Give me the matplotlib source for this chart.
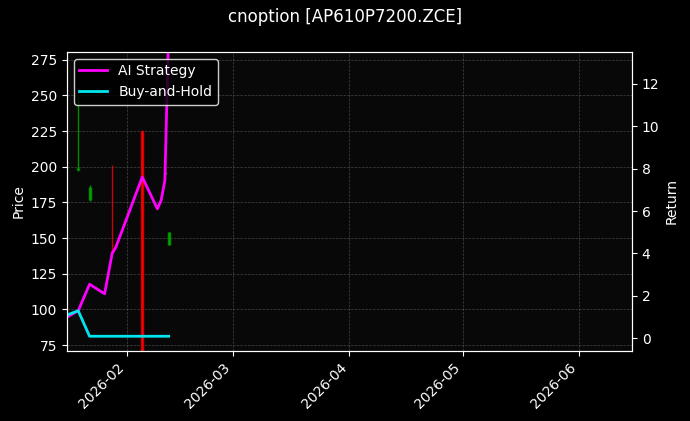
import matplotlib
matplotlib.use("Agg")
import matplotlib.pyplot as plt
import matplotlib.dates as mdates
import pandas as pd

ret_dates = ["2026-01-16","2026-01-19","2026-01-22","2026-01-26","2026-01-28","2026-01-29",
             "2026-02-05","2026-02-09","2026-02-10","2026-02-11","2026-02-12"]
strategy = [1.0, 1.3, 2.55, 2.1, 4.0, 4.3, 7.6, 6.1, 6.5, 7.45, 14.5]
buyhold = [1.1, 1.3, 0.1, 0.1, 0.1, 0.1, 0.1, 0.1, 0.1, 0.1, 0.1]

c_dates = ["2026-01-19","2026-01-22","2026-01-28","2026-02-05","2026-02-11","2026-02-12"]
c_open  = [198, 177, 141, 225, 195, 145]
c_high  = [250, 187, 201, 226, 197, 154]
c_low   = [197, 176, 139, 60, 195, 145]
c_close = [199, 186, 140, 60, 196, 154]

rd = pd.to_datetime(ret_dates)
cd = pd.to_datetime(c_dates)

plt.style.use("dark_background")
fig, ax = plt.subplots(figsize=(6.9, 4.21), dpi=100)
fig.patch.set_facecolor("black")
ax.set_facecolor("#080808")
ax2 = ax.twinx()

for d, o, h, l, c in zip(cd, c_open, c_high, c_low, c_close):
    col = "#00aa00" if c > o else ("#ff0000" if c < o else "#888888")
    ax.vlines(d, l, h, color=col, linewidth=1, alpha=0.8)
    ax.vlines(d, min(o, c), max(o, c), color=col, linewidth=2.5, alpha=0.8)

ax2.plot(rd, strategy, color="#ff00ff", linewidth=2, label="AI Strategy")
ax2.plot(rd, buyhold, color="#00e5ee", linewidth=2, label="Buy-and-Hold")

ax.set_xlim(pd.Timestamp("2026-01-16"), pd.Timestamp("2026-06-15"))
ax.set_ylim(70.8, 280.6)
ax2.set_ylim(-0.6, 13.5)
ax.set_ylabel("Price")
ax2.set_ylabel("Return")
ax.xaxis.set_major_locator(mdates.MonthLocator())
ax.xaxis.set_major_formatter(mdates.DateFormatter("%Y-%m"))
plt.setp(ax.get_xticklabels(), rotation=45, ha="right")
ax.grid(True, color="gray", linestyle="--", linewidth=0.5, alpha=0.5)
ax2.legend(loc="upper left", facecolor="black", edgecolor="white")
fig.suptitle("cnoption [AP610P7200.ZCE]", color="white")
fig.subplots_adjust(left=0.097, right=0.916, top=0.877, bottom=0.166)
fig.savefig("out.png", dpi=100, facecolor="black")
